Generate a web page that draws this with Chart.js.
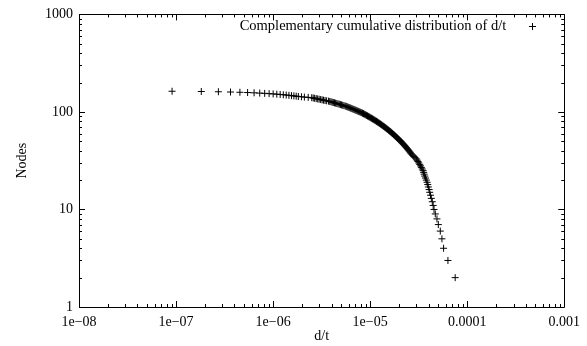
<!DOCTYPE html>
<html>
<head>
<meta charset="utf-8">
<script src="https://cdn.jsdelivr.net/npm/chart.js"></script>
<style>
  html, body { margin: 0; padding: 0; background: #fff; }
  canvas { display: block; }
</style>
</head>
<body>
<canvas id="ccdf" width="587" height="346"></canvas>
<script>
// Complementary cumulative distribution of d/t
const dtValues = [
  9.1e-8, 1.82e-7, 2.73e-7, 3.64e-7, 4.55e-7, 5.46e-7, 6.37e-7, 7.28e-7, 8.19e-7, 9.1e-7,
  1.001e-6, 1.092e-6, 1.183e-6, 1.274e-6, 1.365e-6, 1.456e-6, 1.547e-6, 1.638e-6, 1.729e-6, 1.82e-6,
  1.96e-6, 2.1e-6, 2.3e-6, 2.5e-6, 2.59e-6, 2.68e-6, 2.78e-6, 2.88e-6, 2.98e-6, 3.09e-6,
  3.2e-6, 3.31e-6, 3.43e-6, 3.56e-6, 3.73e-6, 3.84e-6, 3.95e-6, 4.06e-6, 4.17e-6, 4.29e-6,
  4.41e-6, 4.54e-6, 4.67e-6, 4.8e-6, 4.94e-6, 5.08e-6, 5.22e-6, 5.37e-6, 5.53e-6, 5.66e-6,
  5.79e-6, 5.93e-6, 6.07e-6, 6.21e-6, 6.35e-6, 6.5e-6, 6.65e-6, 6.81e-6, 6.97e-6, 7.13e-6,
  7.3e-6, 7.47e-6, 7.64e-6, 7.82e-6, 8.01e-6, 8.2e-6, 8.36e-6, 8.53e-6, 8.69e-6, 8.86e-6,
  9.04e-6, 9.22e-6, 9.4e-6, 9.58e-6, 9.77e-6, 9.96e-6, 1.016e-5, 1.036e-5, 1.056e-5, 1.077e-5,
  1.098e-5, 1.12e-5, 1.142e-5, 1.164e-5, 1.187e-5, 1.21e-5, 1.233e-5, 1.257e-5, 1.281e-5, 1.305e-5,
  1.33e-5, 1.356e-5, 1.381e-5, 1.408e-5, 1.435e-5, 1.462e-5, 1.49e-5, 1.519e-5, 1.548e-5, 1.577e-5,
  1.607e-5, 1.638e-5, 1.669e-5, 1.701e-5, 1.734e-5, 1.767e-5, 1.8e-5, 1.835e-5, 1.871e-5, 1.908e-5,
  1.946e-5, 1.984e-5, 2.023e-5, 2.063e-5, 2.104e-5, 2.145e-5, 2.188e-5, 2.231e-5, 2.275e-5, 2.319e-5,
  2.365e-5, 2.412e-5, 2.459e-5, 2.508e-5, 2.557e-5, 2.608e-5, 2.66e-5, 2.74e-5, 2.82e-5, 2.9e-5,
  2.99e-5, 3.05e-5, 3.11e-5, 3.17e-5, 3.24e-5, 3.3e-5, 3.37e-5, 3.44e-5, 3.51e-5, 3.56e-5,
  3.6e-5, 3.65e-5, 3.72e-5, 3.79e-5, 3.86e-5, 3.92e-5, 3.98e-5, 4.05e-5, 4.11e-5, 4.19e-5,
  4.27e-5, 4.37e-5, 4.46e-5, 4.55e-5, 4.69e-5, 4.88e-5, 5.04e-5, 5.28e-5, 5.49e-5, 5.71e-5,
  6.33e-5, 7.52e-5
]
const nodeCounts = [
  163, 162, 161, 160, 159, 158, 157, 156, 155, 154,
  153, 152, 151, 150, 149, 148, 147, 146, 145, 144,
  143, 142, 141, 140, 139, 138, 137, 136, 135, 134,
  133, 132, 131, 130, 129, 128, 127, 126, 125, 124,
  123, 122, 121, 120, 119, 118, 117, 116, 115, 114,
  113, 112, 111, 110, 109, 108, 107, 106, 105, 104,
  103, 102, 101, 100, 99, 98, 97, 96, 95, 94,
  93, 92, 91, 90, 89, 88, 87, 86, 85, 84,
  83, 82, 81, 80, 79, 78, 77, 76, 75, 74,
  73, 72, 71, 70, 69, 68, 67, 66, 65, 64,
  63, 62, 61, 60, 59, 58, 57, 56, 55, 54,
  53, 52, 51, 50, 49, 48, 47, 46, 45, 44,
  43, 42, 41, 40, 39, 38, 37, 36, 35, 34,
  33, 32, 31, 30, 29, 28, 27, 26, 25, 24,
  23, 22, 21, 20, 19, 18, 17, 16, 15, 14,
  13, 12, 11, 10, 9, 8, 7, 6, 5, 4,
  3, 2
]

const xTickValues = [1e-8, 1e-7, 1e-6, 1e-5, 1e-4, 1e-3]
const xTickLabels = ['1e\u221208', '1e\u221207', '1e\u221206', '1e\u221205', '0.0001', '0.001']
const yTickValues = [1, 10, 100, 1000]
const yTickLabels = ['1', '10', '100', '1000']
const minorSteps = [2, 3, 4, 5, 6, 7, 8, 9]

const serif = '"Liberation Serif", "Times New Roman", serif'

// gnuplot-style frame, inward ticks on all four sides, key inside top right
const gnuplotFrame = {
  id: 'gnuplotFrame',
  afterDatasetsDraw(chart) {
    const { ctx, chartArea: a, scales: { x, y } } = chart
    const px = v => Math.round(v) + 0.5
    ctx.save()
    ctx.strokeStyle = '#000'
    ctx.lineWidth = 1
    ctx.beginPath()
    ctx.rect(px(a.left), px(a.top), Math.round(a.right) - Math.round(a.left), Math.round(a.bottom) - Math.round(a.top))

    const xTick = (v, len) => {
      const p = px(x.getPixelForValue(v))
      ctx.moveTo(p, a.bottom); ctx.lineTo(p, a.bottom - len)
      ctx.moveTo(p, a.top); ctx.lineTo(p, a.top + len)
    }
    const yTick = (v, len) => {
      const p = px(y.getPixelForValue(v))
      ctx.moveTo(a.left, p); ctx.lineTo(a.left + len, p)
      ctx.moveTo(a.right, p); ctx.lineTo(a.right - len, p)
    }
    xTickValues.forEach((v, i) => {
      xTick(v, 6)
      if (i < xTickValues.length - 1) minorSteps.forEach(m => xTick(v * m, 3))
    })
    yTickValues.forEach((v, i) => {
      yTick(v, 6)
      if (i < yTickValues.length - 1) minorSteps.forEach(m => yTick(v * m, 3))
    })
    ctx.stroke()

    // key
    const ds = chart.data.datasets[0]
    const ky = a.top + 12
    ctx.fillStyle = '#000'
    ctx.font = '14.5px ' + serif
    ctx.textAlign = 'right'
    ctx.textBaseline = 'middle'
    ctx.fillText(ds.label, a.right - 58, ky)
    const kx = Math.round(a.right - 32) + 0.5
    ctx.beginPath()
    ctx.moveTo(kx - 3.5, px(ky)); ctx.lineTo(kx + 3.5, px(ky))
    ctx.moveTo(kx, px(ky) - 3.5); ctx.lineTo(kx, px(ky) + 3.5)
    ctx.stroke()
    ctx.restore()
  }
}

new Chart(document.getElementById('ccdf'), {
  type: 'scatter',
  data: {
    datasets: [{
      label: 'Complementary cumulative distribution of d/t',
      data: dtValues.map((v, i) => ({ x: v, y: nodeCounts[i] })),
      pointStyle: 'cross',
      pointRadius: 3.5,
      pointHoverRadius: 3.5,
      borderColor: '#000',
      backgroundColor: '#000',
      borderWidth: 1,
      showLine: false
    }]
  },
  options: {
    responsive: false,
    animation: false,
    devicePixelRatio: 1,
    layout: { padding: { top: 13, right: 20, left: 0, bottom: 0 } },
    plugins: {
      legend: { display: false },
      tooltip: { enabled: false }
    },
    scales: {
      x: {
        type: 'logarithmic',
        min: 1e-8,
        max: 1e-3,
        afterBuildTicks: s => { s.ticks = xTickValues.map(v => ({ value: v })) },
        afterFit: s => { s.height = 39 },
        grid: { display: false, drawTicks: false },
        border: { display: false },
        ticks: {
          color: '#000',
          font: { family: serif, size: 14 },
          padding: 7,
          maxRotation: 0,
          autoSkip: false,
          callback: (v, i) => xTickLabels[i]
        },
        title: {
          display: true,
          text: 'd/t',
          color: '#000',
          font: { family: serif, size: 14 },
          padding: { top: 0, bottom: 1 }
        }
      },
      y: {
        type: 'logarithmic',
        min: 1,
        max: 1000,
        afterBuildTicks: s => { s.ticks = yTickValues.map(v => ({ value: v })) },
        afterFit: s => { s.width = 79 },
        grid: { display: false, drawTicks: false },
        border: { display: false },
        ticks: {
          color: '#000',
          font: { family: serif, size: 14 },
          padding: 6,
          autoSkip: false,
          callback: (v, i) => yTickLabels[i]
        },
        title: {
          display: true,
          text: 'Nodes',
          color: '#000',
          font: { family: serif, size: 14 },
          padding: { top: 14, bottom: 0 }
        }
      }
    }
  },
  plugins: [gnuplotFrame]
})
</script>
</body>
</html>
